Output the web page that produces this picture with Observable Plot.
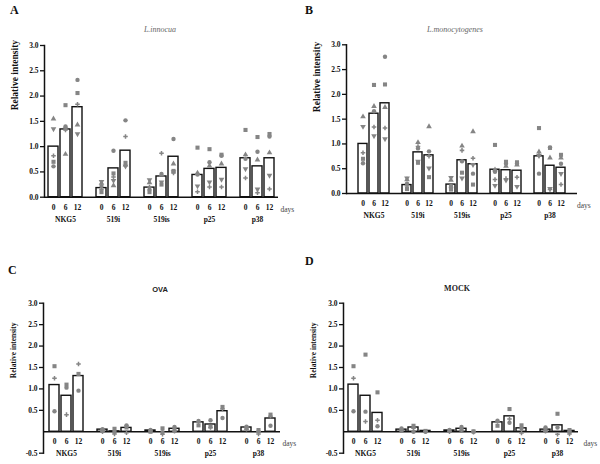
<!DOCTYPE html>
<html>
<head>
<meta charset="utf-8">
<script src="https://cdn.jsdelivr.net/npm/d3@7"></script>
<script src="https://cdn.jsdelivr.net/npm/@observablehq/plot@0.6"></script>
<style>
  html, body { margin: 0; padding: 0; background: #fff; }
  #root { position: relative; width: 600px; height: 464px; overflow: hidden; background: #fff; font-family: "Liberation Serif", serif; }
  .panel { position: absolute; }
  .panel text { font-family: "Liberation Serif", serif; }
  .lbl { position: absolute; white-space: nowrap; }
  .letter { font-weight: bold; font-size: 12px; color: #111; }
  .title { transform: translateX(-50%); font-size: 8px; }
</style>
</head>
<body>
<div id="root"></div>
<script>
// ---- categories ----
const groups = ["NKG5", "519i", "519is", "p25", "p38"];
const days = ["0", "6", "12"];
const yTicksAB = [0, 0.5, 1.0, 1.5, 2.0, 2.5, 3.0];
const yTicksCD = [-0.5, 0.5, 1.0, 1.5, 2.0, 2.5, 3.0];

// ---- values, order: NKG5 0/6/12, 519i 0/6/12, 519is 0/6/12, p25 0/6/12, p38 0/6/12 ----
// A: L.innocua
const innocuaBars    = [1.00, 1.34, 1.78, 0.18, 0.57, 0.92, 0.19, 0.41, 0.80, 0.44, 0.56, 0.58, 0.77, 0.61, 0.77];
const innocuaCircle  = [0.61, 1.40, 2.32, 0.22, 0.92, 1.52, 0.15, 0.46, 1.15, 0.45, 0.69, 0.82, 0.76, 0.90, 1.20];
const innocuaSquare  = [0.70, 1.82, 2.06, 0.10, 0.47, 0.68, 0.10, 0.25, 0.52, 0.98, 0.95, 0.84, 1.33, 1.19, 1.25];
const innocuaTriUp   = [1.55, 0.85, 1.43, 0.28, 0.23, 0.64, 0.29, 0.44, 0.66, 0.48, 0.62, 0.66, 0.84, 0.74, 0.88];
const innocuaTriDown = [1.35, 1.35, 1.25, 0.31, 0.33, 0.61, 0.34, 0.30, 0.50, 0.22, 0.30, 0.35, 0.56, 0.16, 0.43];
const innocuaPlus    = [0.82, 1.33, 1.84, 0.15, 0.40, 1.20, 0.20, 0.87, 0.48, 0.11, 0.20, 0.20, 0.38, 0.09, 0.16];
// B: L.monocytogenes
const monoBars    = [1.00, 1.61, 1.82, 0.17, 0.83, 0.77, 0.18, 0.67, 0.59, 0.48, 0.47, 0.46, 0.75, 0.56, 0.52];
const monoCircle  = [0.61, 1.66, 2.76, 0.20, 0.91, 0.85, 0.15, 0.65, 0.40, 0.44, 0.60, 0.60, 0.40, 0.93, 0.60];
const monoSquare  = [0.70, 2.19, 2.20, 0.09, 0.62, 0.33, 0.08, 0.42, 0.18, 0.98, 0.64, 0.63, 1.32, 0.92, 0.78];
const monoTriUp   = [1.55, 1.76, 1.74, 0.28, 1.03, 1.35, 0.27, 0.96, 1.25, 0.48, 0.55, 0.58, 0.84, 0.72, 0.72];
const monoTriDown = [1.35, 1.16, 1.10, 0.31, 0.65, 0.51, 0.32, 0.31, 0.58, 0.16, 0.27, 0.14, 0.76, 0.10, 0.40];
const monoPlus    = [0.82, 1.34, 1.32, 0.15, 0.95, 0.75, 0.12, 0.87, 0.71, 0.28, 0.30, 0.33, 0.78, 0.08, 0.18];
// C: OVA
const ovaBars   = [1.09, 0.84, 1.30, 0.05, 0.01, 0.09, 0.03, 0.00, 0.07, 0.22, 0.17, 0.48, 0.10, 0.00, 0.31];
const ovaSquare = [1.53, 1.10, 1.35, 0.03, 0.07, 0.10, 0.00, 0.08, 0.07, 0.15, 0.12, 0.58, 0.09, 0.04, 0.40];
const ovaCircle = [0.48, 1.03, 0.96, 0.06, 0.00, 0.15, 0.04, -0.01, 0.11, 0.25, 0.27, 0.32, 0.12, 0.01, 0.14];
const ovaPlus   = [1.25, 0.40, 1.58, 0.00, -0.05, -0.02, 0.02, -0.06, 0.01, 0.23, 0.10, 0.53, 0.06, -0.05, 0.36];
// D: MOCK
const mockBars   = [1.10, 0.84, 0.44, 0.05, 0.10, 0.02, 0.03, 0.07, 0.00, 0.22, 0.36, 0.08, 0.05, 0.15, 0.02];
const mockSquare = [1.53, 1.80, 0.92, 0.04, 0.14, 0.02, 0.02, 0.05, 0.01, 0.14, 0.53, 0.15, 0.05, 0.42, 0.04];
const mockCircle = [0.48, 0.47, 0.13, 0.08, 0.00, 0.00, 0.04, 0.11, 0.00, 0.26, 0.21, 0.08, 0.10, 0.10, 0.00];
const mockPlus   = [1.25, 0.24, 0.27, 0.03, 0.08, 0.00, 0.00, 0.03, -0.01, 0.24, 0.30, -0.03, 0.01, -0.06, -0.05];

// ---- helpers ----
const keys = groups.flatMap(g => days.map(d => g + "|" + d));
const xDomain = groups.flatMap((g, i) => {
  const k = days.map(d => g + "|" + d);
  return i < groups.length - 1 ? [...k, "gap" + i] : k;
});
const rows = vals => keys.map((k, i) => ({key: k, group: k.split("|")[0], day: k.split("|")[1], value: vals[i]}));
const triDown = {
  draw(ctx, size) {
    const y = -Math.sqrt(size / (Math.sqrt(3) * 3));
    ctx.moveTo(0, -y * 2);
    ctx.lineTo(-Math.sqrt(3) * y, y);
    ctx.lineTo(Math.sqrt(3) * y, y);
    ctx.closePath();
  }
};
const DOT = "#858585";
const INK = "#111";
const FONT = "'Liberation Serif', serif";

function panel(cfg) {
  const marks = [
    Plot.axisY({ticks: cfg.ticks, tickFormat: d => d.toFixed(1), tickSize: 4, tickPadding: 2,
      fontSize: 7.5, fontWeight: "bold", fontFamily: FONT, stroke: INK, strokeWidth: 1.3, fill: INK, label: null}),
    Plot.barY(rows(cfg.bars), {x: "key", y: "value", fill: "white", stroke: INK, strokeWidth: 1.4}),
    Plot.ruleY([0], {stroke: INK, strokeWidth: 1.5}),
    Plot.frame({anchor: "left", stroke: INK, strokeWidth: 1.5}),
  ];
  for (const s of cfg.series) {
    marks.push(Plot.dot(rows(s.vals), {x: "key", y: "value", symbol: s.symbol, r: s.r, fill: DOT}));
  }
  marks.push(
    Plot.text(rows(cfg.bars), {x: "key", y: () => 0, text: "day", dy: 10, fontSize: 7.5, fontWeight: "bold", fontFamily: FONT, fill: INK}),
    Plot.text(rows(cfg.bars).filter(d => d.day === "6"), {x: "key", y: () => 0, text: "group", dy: 22, fontSize: 7.5, fontWeight: "bold", fontFamily: FONT, fill: INK}),
    Plot.text(["days"], {x: () => "p38|12", y: () => 0, text: d => d, dx: cfg.daysDx, dy: 12, textAnchor: "start", fontSize: 7.5, fontFamily: FONT, fill: "#444"}),
    Plot.text(["Relative intensity"], {frameAnchor: "left", text: d => d, rotate: -90, dx: -30, dy: cfg.labelDy,
      fontSize: cfg.labelSize, fontWeight: "bold", fontFamily: FONT, fill: INK})
  );
  const svg = Plot.plot({
    width: cfg.width, height: cfg.height,
    marginLeft: cfg.ml, marginRight: cfg.mr, marginTop: cfg.mt, marginBottom: cfg.mb,
    x: {type: "band", domain: xDomain, paddingInner: 0.18, paddingOuter: 0.22, axis: null},
    y: {domain: cfg.yDomain, axis: null},
    style: {fontFamily: "'Liberation Serif', serif", background: "transparent", overflow: "visible"},
    marks
  });
  svg.classList.add("panel");
  svg.style.left = cfg.left + "px";
  svg.style.top = cfg.top + "px";
  return svg;
}

const root = document.getElementById("root");
const fiveSeries = (c, s, tu, td, p) => [
  {symbol: "circle", vals: c, r: 2.2},
  {symbol: "square", vals: s, r: 2.3},
  {symbol: "triangle", vals: tu, r: 2.1},
  {symbol: triDown, vals: td, r: 2.1},
  {symbol: "cross", vals: p, r: 1.9},
];
const threeSeries = (s, c, p) => [
  {symbol: "square", vals: s, r: 2.3},
  {symbol: "circle", vals: c, r: 2.2},
  {symbol: "cross", vals: p, r: 1.9},
];

root.appendChild(panel({left: 0, top: 0, width: 300, height: 230, ml: 44, mr: 22, mt: 45, mb: 33.3,
  yDomain: [0, 3], ticks: yTicksAB, bars: innocuaBars, labelDy: -11, labelSize: 9.5, daysDx: 11,
  series: fiveSeries(innocuaCircle, innocuaSquare, innocuaTriUp, innocuaTriDown, innocuaPlus)}));
root.appendChild(panel({left: 300, top: 0, width: 300, height: 230, ml: 46, mr: 23, mt: 44.3, mb: 37,
  yDomain: [0, 3], ticks: yTicksAB, bars: monoBars, labelDy: -7, labelSize: 9.5, daysDx: 16,
  series: fiveSeries(monoCircle, monoSquare, monoTriUp, monoTriDown, monoPlus)}));
root.appendChild(panel({left: 0, top: 230, width: 300, height: 234, ml: 43, mr: 20, mt: 72.7, mb: 11.3,
  yDomain: [-0.5, 3], ticks: yTicksCD, bars: ovaBars, labelDy: 0, labelSize: 7.5, daysDx: 12,
  series: threeSeries(ovaSquare, ovaCircle, ovaPlus)}));
root.appendChild(panel({left: 300, top: 230, width: 300, height: 234, ml: 43, mr: 22, mt: 72.7, mb: 11.3,
  yDomain: [-0.5, 3], ticks: yTicksCD, bars: mockBars, labelDy: 0, labelSize: 7.5, daysDx: 14,
  series: threeSeries(mockSquare, mockCircle, mockPlus)}));

// panel letters and titles
const labels = [
  {text: "A", x: 10, y: 3, cls: "letter"},
  {text: "B", x: 305, y: 3, cls: "letter"},
  {text: "C", x: 8, y: 263, cls: "letter"},
  {text: "D", x: 305, y: 254, cls: "letter"},
  {text: "L.innocua", x: 160, y: 25, cls: "title", style: "font-style:italic;color:#666;"},
  {text: "L.monocytogenes", x: 455, y: 25, cls: "title", style: "font-style:italic;color:#666;"},
  {text: "OVA", x: 160, y: 285, cls: "title", style: "font-family:'Liberation Sans',sans-serif;font-weight:bold;color:#222;font-size:7.5px;"},
  {text: "MOCK", x: 457, y: 284, cls: "title", style: "font-weight:bold;color:#222;"},
];
for (const l of labels) {
  const el = document.createElement("div");
  el.className = "lbl " + l.cls;
  el.textContent = l.text;
  el.style.left = l.x + "px";
  el.style.top = l.y + "px";
  if (l.style) el.style.cssText += l.style;
  root.appendChild(el);
}
</script>
</body>
</html>
